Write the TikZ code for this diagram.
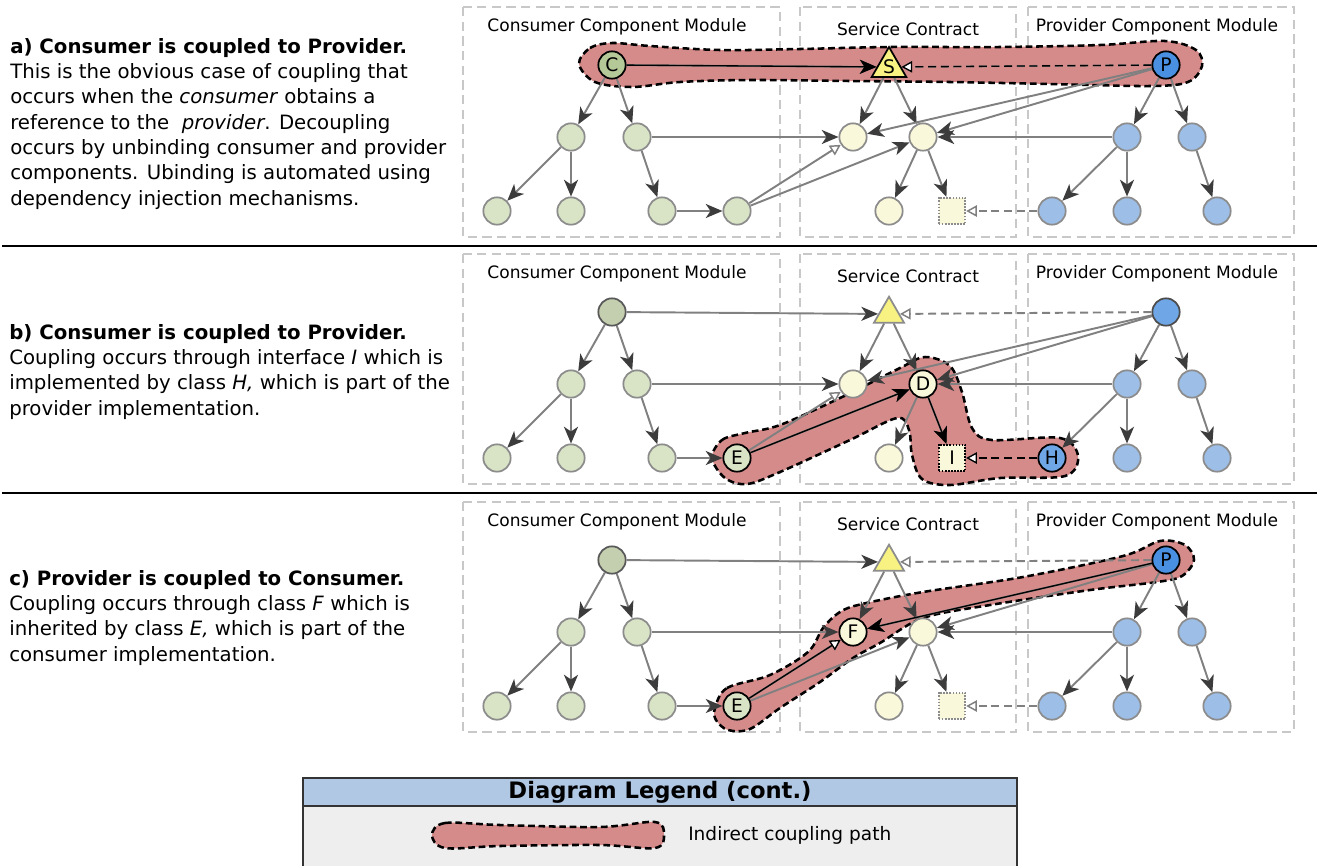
\documentclass[tikz,border=0pt]{standalone}
\usepackage{fontspec}
\setmainfont{DejaVu Sans}
\usetikzlibrary{arrows.meta,shapes.geometric}
\pgfdeclarelayer{boxes}
\pgfdeclarelayer{blobs}
\pgfdeclarelayer{edges}
\pgfsetlayers{boxes,blobs,edges,main}
\definecolor{cgreen}{RGB}{216,228,197}
\definecolor{cgreenD}{RGB}{181,201,152}
\definecolor{cgreenT}{RGB}{196,207,176}
\definecolor{syel}{RGB}{250,248,218}
\definecolor{tyel}{RGB}{247,242,130}
\definecolor{pblue}{RGB}{157,190,230}
\definecolor{pblueD}{RGB}{74,144,226}
\definecolor{pblueT}{RGB}{110,166,230}
\definecolor{blobred}{RGB}{214,139,139}
\definecolor{boxgray}{RGB}{200,200,200}
\definecolor{edgegray}{RGB}{128,128,128}
\definecolor{headgray}{RGB}{60,60,60}
\definecolor{nodeborder}{RGB}{140,140,140}
\definecolor{legendhead}{RGB}{176,200,228}
\definecolor{legendbody}{RGB}{238,238,238}
\def\ntext{}
\tikzset{
  txt/.code={\def\ntext{#1}},
  nd/.style={circle, minimum size=20.5pt, inner sep=0pt, line width=1.3pt, draw=nodeborder,
    font=\fontsize{14}{14}\selectfont, txt={}},
  cn/.style={nd, fill=cgreen},
  sn/.style={nd, fill=syel},
  pn/.style={nd, fill=pblue},
  ctop/.style={nd, fill=cgreenT, draw=black!65},
  ptop/.style={nd, fill=pblueT, draw=black!70},
  tri/.style={regular polygon, regular polygon sides=3, minimum size=26pt, inner sep=0pt,
    fill=tyel, draw=nodeborder, line width=1.3pt, font=\fontsize{14}{14}\selectfont, txt={}},
  sq/.style={rectangle, minimum size=20pt, inner sep=0pt, fill=syel, draw=nodeborder,
    densely dotted, line width=1.3pt, font=\fontsize{14}{14}\selectfont, txt={}},
  hl/.style={draw=black, solid},
  ge/.style={draw=edgegray, line width=1.45pt, -{Stealth[length=12.5pt, width=10.5pt, inset=3.5pt, color=headgray]}},
  gt/.style={draw=edgegray, line width=1.45pt, -{Triangle[length=8pt, width=8.5pt, fill=white, color=edgegray, line width=1.1pt]}},
  gd/.style={gt, dash pattern=on 6pt off 3.5pt},
  be/.style={draw=black, line width=1pt, -{Stealth[length=12.5pt, width=10.5pt, inset=3.5pt, color=black]}},
  bt/.style={draw=black, line width=1pt, -{Triangle[length=8pt, width=8.5pt, fill=white, color=black, line width=1pt]}},
  bd/.style={bt, dash pattern=on 6pt off 3.5pt},
  modbox/.style={draw=boxgray, line width=1.1pt, dash pattern=on 7pt off 4pt},
  modlbl/.style={font=\fontsize{12.8}{14}\selectfont, inner sep=0pt},
  blob/.style={fill=blobred, draw=black, line width=1.9pt, dash pattern=on 5pt off 2.8pt},
  desc/.style={anchor=north west, align=left, inner sep=0pt, font=\fontsize{14.8}{19}\selectfont},
  % panel a
  at0/.style={fill=cgreenD, hl, txt=C},
  at1/.style={hl, txt=S},
  at2/.style={fill=pblueD, hl, txt=P},
  % panel b
  bc6/.style={hl, txt=E},
  bs2/.style={hl, txt=D},
  bs4/.style={draw=black, densely dotted, txt=I},
  bp3/.style={fill=pblueT, hl, txt=H},
  % panel c
  ct2/.style={fill=pblueD, hl, txt=P},
  cc6/.style={hl, txt=E},
  cs1/.style={hl, txt=F},
}
\newcommand\drawpanel[2]{%
\begin{scope}[shift={(0,#2)}]
\begin{pgfonlayer}{boxes}
\draw[modbox] (463,7) rectangle (780,237);
\draw[modbox] (800,7) rectangle (1016,237);
\draw[modbox] (1028,7) rectangle (1294,237);
\end{pgfonlayer}
\node[modlbl] (#1m1) at (617,27) {Consumer Component Module};
\node[modlbl] (#1m2) at (908,29) {Service Contract};
\node[modlbl] (#1m3) at (1157,27) {Provider Component Module};
\node[ctop,#1t0/.try] (#1t0) at (612,65) {\ntext};
\node[tri,#1t1/.try] (#1t1) at (889,67) {\ntext};
\node[ptop,#1t2/.try] (#1t2) at (1166,65) {\ntext};
\node[cn,#1c1/.try] (#1c1) at (571,137) {\ntext};
\node[cn,#1c2/.try] (#1c2) at (637,137) {\ntext};
\node[cn,#1c3/.try] (#1c3) at (497,211) {\ntext};
\node[cn,#1c4/.try] (#1c4) at (571,211) {\ntext};
\node[cn,#1c5/.try] (#1c5) at (662,211) {\ntext};
\node[cn,#1c6/.try] (#1c6) at (737,211) {\ntext};
\node[sn,#1s1/.try] (#1s1) at (853,137) {\ntext};
\node[sn,#1s2/.try] (#1s2) at (923,137) {\ntext};
\node[sn,#1s3/.try] (#1s3) at (889,211) {\ntext};
\node[sq,#1s4/.try] (#1s4) at (952,211) {\ntext};
\node[pn,#1p1/.try] (#1p1) at (1127,137) {\ntext};
\node[pn,#1p2/.try] (#1p2) at (1192,137) {\ntext};
\node[pn,#1p3/.try] (#1p3) at (1052,211) {\ntext};
\node[pn,#1p4/.try] (#1p4) at (1127,211) {\ntext};
\node[pn,#1p5/.try] (#1p5) at (1217,211) {\ntext};
\begin{pgfonlayer}{edges}
\draw[ge] (#1t0) -- (#1t1);
\draw[gd] (#1t2) -- (#1t1);
\draw[ge] (#1t0) -- (#1c1);
\draw[ge] (#1t0) -- (#1c2);
\draw[ge] (#1c1) -- (#1c3);
\draw[ge] (#1c1) -- (#1c4);
\draw[ge] (#1c2) -- (#1c5);
\draw[ge] (#1c2) -- (#1s1);
\draw[ge] (#1c5) -- (#1c6);
\draw[gt] (#1c6) -- (#1s1);
\draw[ge] (#1c6) -- (#1s2);
\draw[ge] (#1t1) -- (#1s1);
\draw[ge] (#1t1) -- (#1s2);
\draw[ge] (#1t2) -- (#1s1);
\draw[ge] (#1t2) -- (#1s2);
\draw[ge] (#1s2) -- (#1s3);
\draw[ge] (#1s2) -- (#1s4);
\draw[ge] (#1p1) -- (#1s2);
\draw[ge] (#1t2) -- (#1p1);
\draw[ge] (#1t2) -- (#1p2);
\draw[ge] (#1p1) -- (#1p3);
\draw[ge] (#1p1) -- (#1p4);
\draw[ge] (#1p2) -- (#1p5);
\draw[gd] (#1p3) -- (#1s4);
\end{pgfonlayer}
\end{scope}}
\begin{document}
\begin{tikzpicture}[x=0.75pt, y=-0.75pt]
\useasboundingbox (0,0) rectangle (1317,865);
% separators
\draw[line width=1.6pt] (2,246) -- (1317,246);
\draw[line width=1.6pt] (2,493) -- (1317,493);
% blobs
\begin{pgfonlayer}{blobs}
\draw[blob] plot[smooth cycle, tension=0.55] coordinates {(579,64) (590,48) (612,43) (650,46) (720,50) (800,49) (890,47) (1000,47) (1100,45) (1165,41) (1196,50) (1202,66) (1188,82) (1150,86) (1050,84) (950,82) (850,81) (750,80) (680,82) (632,87) (595,82)};
\draw[blob] plot[smooth cycle, tension=0.55] coordinates {(712,458) (722,440) (745,433) (780,425) (840,398) (900,368) (925,357) (950,366) (962,392) (972,428) (992,440) (1060,438) (1078,456) (1065,476) (1000,478) (950,485) (922,479) (912,455) (909,430) (897,418) (850,440) (780,472) (747,484) (725,478)};
\draw[blob] plot[smooth cycle, tension=0.55] coordinates {(715,708) (727,688) (770,675) (808,652) (823,628) (840,612) (862,604) (923,592) (1023,577) (1123,556) (1160,541) (1185,545) (1194,560) (1182,576) (1157,582) (1090,590) (990,605) (923,618) (880,643) (853,658) (820,682) (780,708) (750,729) (728,730) (716,720)};
\end{pgfonlayer}
\drawpanel{a}{0}
\drawpanel{b}{247}
\drawpanel{c}{495}
\begin{pgfonlayer}{edges}
\draw[be] (at0) -- (at1);
\draw[bd] (at2) -- (at1);
\draw[be] (bc6) -- (bs2);
\draw[be] (bs2) -- (bs4);
\draw[bd] (bp3) -- (bs4);
\draw[bt] (cc6) -- (cs1);
\draw[be] (ct2) -- (cs1);
\end{pgfonlayer}
% descriptions
\node[desc] (ta) at (10,38) {\textbf{a) Consumer is coupled to Provider.}\\This is the obvious case of coupling that\\occurs when the \emph{consumer} obtains a\\reference to the \ \emph{provider}. Decoupling\\occurs by unbinding consumer and provider\\components. Ubinding is automated using\\dependency injection mechanisms.};
\node[desc] (tb) at (9,324) {\textbf{b) Consumer is coupled to Provider.}\\Coupling occurs through interface \emph{I} which is\\implemented by class \emph{H,} which is part of the\\provider implementation.};
\node[desc] (tc) at (9,570) {\textbf{c) Provider is coupled to Consumer.}\\Coupling occurs through class \emph{F} which is\\inherited by class \emph{E,} which is part of the\\consumer implementation.};
% legend
\fill[legendbody] (303,806) rectangle (1017,870);
\fill[legendhead] (303,778) rectangle (1017,806);
\draw[draw=black!80, line width=1.5pt] (303,870) -- (303,778) -- (1017,778) -- (1017,870);
\draw[draw=black!80, line width=1.5pt] (303,806) -- (1017,806);
\node[font=\fontsize{17}{17}\selectfont\bfseries, inner sep=0pt] (lgt) at (660,792) {Diagram Legend (cont.)};
\draw[blob] plot[smooth cycle, tension=0.55] coordinates {(432,835) (445,823) (500,825) (600,827) (655,822) (664,835) (655,848) (600,845) (500,846) (445,848)};
\node[font=\fontsize{13.9}{14}\selectfont, anchor=west, inner sep=0pt] (lgl) at (688,835) {Indirect coupling path};
\end{tikzpicture}
\end{document}
